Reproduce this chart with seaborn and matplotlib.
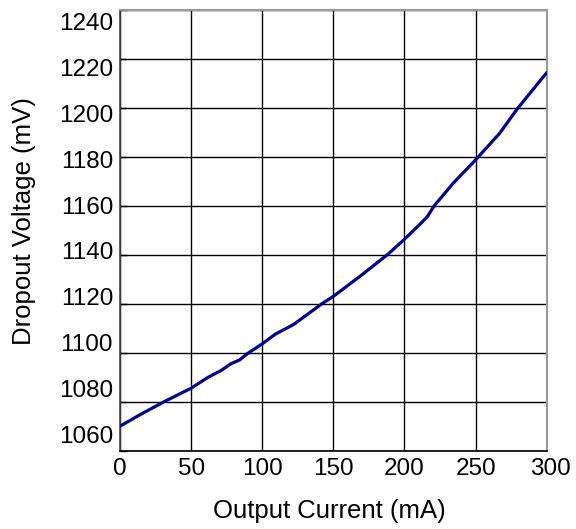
import matplotlib
matplotlib.use("Agg")
import matplotlib.pyplot as plt
import matplotlib.transforms as mtransforms
import numpy as np
import pandas as pd
import seaborn as sns

# Data
current_ma = [0, 15, 31, 50, 62, 71, 78, 84, 90, 100, 109, 122, 142, 150,
              169, 188, 200, 211, 216, 221, 234, 250, 267, 279, 300]
dropout_mv = [1070.0, 1075.0, 1080.0, 1085.5, 1090.0, 1092.7, 1095.5, 1097.0,
              1099.8, 1103.6, 1107.5, 1111.5, 1120.0, 1123.0, 1131.3, 1140.0,
              1146.3, 1152.5, 1155.5, 1160.0, 1169.0, 1178.7, 1189.6, 1199.3,
              1214.3]
x_ticks = [0, 50, 100, 150, 200, 250, 300]
y_ticks = [1060, 1080, 1100, 1120, 1140, 1160, 1180, 1200, 1220, 1240]

df = pd.DataFrame({"Output Current (mA)": current_ma,
                   "Dropout Voltage (mV)": dropout_mv})

sns.set_theme(style="white")
plt.rcParams["font.family"] = ["Liberation Sans", "DejaVu Sans"]
plt.rcParams["text.color"] = "black"
plt.rcParams["axes.labelcolor"] = "black"
plt.rcParams["xtick.labelcolor"] = "black"
plt.rcParams["ytick.labelcolor"] = "black"

FS = 17.5
LFS = 18.5

fig = plt.figure(figsize=(5.76, 5.29), dpi=100)
ax = fig.add_axes([120 / 576, 1 - 450.7 / 529, 426.7 / 576, 441 / 529])

sns.lineplot(data=df, x="Output Current (mA)", y="Dropout Voltage (mV)",
             ax=ax, color="#00008C", linewidth=2.3, sort=False,
             estimator=None, zorder=5)

ax.set_xlim(0, 300)
ax.set_ylim(1060, 1240)
ax.set_xticks(x_ticks)
ax.set_yticks(y_ticks)
ax.set_xticklabels([str(v) for v in x_ticks])
ax.set_yticklabels([str(v) for v in y_ticks])

ax.grid(True, color="black", linewidth=1.0)
ax.set_axisbelow(True)

for side in ["top", "right"]:
    ax.spines[side].set_color("#999999")
    ax.spines[side].set_linewidth(1.5)
ax.spines["left"].set_color("#444444")
ax.spines["left"].set_linewidth(1.2)
ax.spines["bottom"].set_color("black")
ax.spines["bottom"].set_linewidth(1.2)

ax.tick_params(axis="y", direction="in", length=5, width=1, color="black",
               labelsize=FS, labelcolor="black", pad=5, left=True)
ax.tick_params(axis="x", direction="in", length=0, labelsize=FS,
               labelcolor="black", pad=5)

# y tick labels are spaced slightly tighter than the grid in the reference
n = len(y_ticks)
for i, lab in enumerate(ax.get_yticklabels()):
    dy_px = 16.0 - i * (27.6 / (n - 1))
    off = mtransforms.ScaledTranslation(0, dy_px / 100.0, fig.dpi_scale_trans)
    lab.set_transform(lab.get_transform() + off)
for i, lab in enumerate(ax.get_xticklabels()):
    if i == len(x_ticks) - 1:
        off = mtransforms.ScaledTranslation(4 / 100.0, 0, fig.dpi_scale_trans)
        lab.set_transform(lab.get_transform() + off)

ax.set_xlabel("Output Current (mA)", fontsize=LFS, color="black")
ax.set_ylabel("Dropout Voltage (mV)", fontsize=LFS, color="black")
ax.xaxis.set_label_coords(0.49, -0.11)
ax.yaxis.set_label_coords(-0.198, 0.52)

fig.savefig("out.png", dpi=100)
